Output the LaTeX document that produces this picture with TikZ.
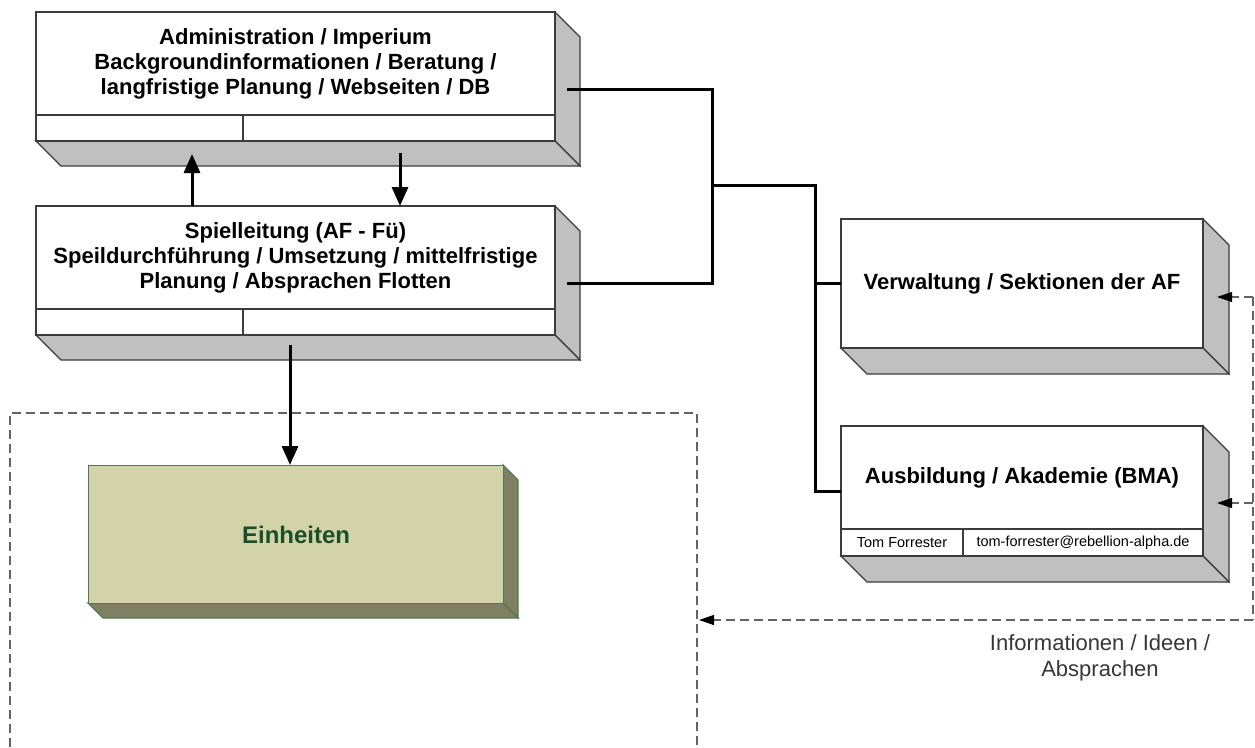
\documentclass[tikz,border=0pt]{standalone}
\usepackage{fontspec}
\setmainfont{Liberation Sans}
\usetikzlibrary{arrows.meta}
\definecolor{sidegray}{RGB}{192,192,192}
\definecolor{edgegray}{RGB}{60,60,60}
\definecolor{olivefront}{RGB}{211,211,170}
\definecolor{oliveside}{RGB}{127,127,100}
\definecolor{olivedge}{RGB}{84,120,84}
\definecolor{einheitgreen}{RGB}{30,78,40}
\definecolor{dashgray}{RGB}{100,100,100}
\definecolor{labelgray}{RGB}{55,55,55}
\newcommand{\extrude}[6]{%
  \draw[#6] (#1+#3,#2) -- ++(#5,#5) -- ++(0,#4) -- ++(-#5,-#5) -- cycle;
  \draw[#6] (#1,#2+#4) -- ++(#3,0) -- ++(#5,#5) -- ++(-#3,0) -- cycle;}
\begin{document}
\begin{tikzpicture}[x=1pt,y=-1pt,
  side/.style={draw=edgegray, line width=1.2pt, fill=sidegray},
  oside/.style={draw=olivedge, line width=1.2pt, fill=oliveside},
  cell/.style={draw=edgegray, line width=1.2pt, fill=white, rectangle, inner sep=0pt, outer sep=0pt, anchor=north west},
  boxtext/.style={font=\fontsize{22}{25}\selectfont\bfseries, align=center, text=black},
  smalltext/.style={font=\fontsize{14.5}{16}\selectfont, text=black},
  conn/.style={line width=3pt, draw=black},
  solidarrow/.style={line width=3pt, draw=black, -{Triangle[length=19pt,width=16pt]}},
  dasharrow/.style={line width=1.3pt, draw=dashgray, dash pattern=on 9pt off 5pt, -{Triangle[length=15pt,width=10pt,fill=black,color=black]}},
  dashline/.style={line width=1.3pt, draw=dashgray, dash pattern=on 9pt off 5pt},
  infotext/.style={font=\fontsize{22}{26}\selectfont, align=center, text=labelgray}]
\useasboundingbox (0,0) rectangle (1255,747);
\fill[white] (0,0) rectangle (1255,747);

% dashed frame round the units
\draw[dashline] (10,747) -- (10,413) -- (697,413) -- (697,747);

% Box 1: Administration
\extrude{36}{12}{519}{129}{25}{side}
\node[cell, boxtext, minimum width=519pt, minimum height=103pt] (admin) at (36,12)
  {Administration / Imperium\\Backgroundinformationen / Beratung /\\langfristige Planung / Webseiten / DB};
\node[cell, minimum width=207pt, minimum height=26pt] (adminA) at (36,115) {};
\node[cell, minimum width=312pt, minimum height=26pt] (adminB) at (243,115) {};

% Box 2: Spielleitung
\extrude{36}{206}{519}{129}{25}{side}
\node[cell, boxtext, minimum width=519pt, minimum height=103pt] (spiel) at (36,206)
  {Spielleitung (AF - Fü)\\Speildurchführung / Umsetzung / mittelfristige\\Planung / Absprachen Flotten};
\node[cell, minimum width=207pt, minimum height=26pt] (spielA) at (36,309) {};
\node[cell, minimum width=312pt, minimum height=26pt] (spielB) at (243,309) {};

% Box 3: Verwaltung
\extrude{841}{219}{362}{129}{26}{side}
\node[cell, boxtext, minimum width=362pt, minimum height=129pt] (verw) at (841,219)
  {Verwaltung / Sektionen der AF};

% Box 4: Ausbildung
\extrude{841}{426}{362}{130}{26}{side}
\node[cell, boxtext, minimum width=362pt, minimum height=103pt] (ausb) at (841,426)
  {Ausbildung / Akademie (BMA)};
\node[cell, smalltext, minimum width=122pt, minimum height=27pt] (ausbA) at (841,529) {Tom Forrester};
\node[cell, smalltext, minimum width=240pt, minimum height=27pt] (ausbB) at (963,529) {tom-forrester@rebellion-alpha.de};

% Einheiten
\extrude{88}{465}{415}{138}{15}{oside}
\node[rectangle, draw=olivedge, line width=1.2pt, fill=olivefront, inner sep=0pt, anchor=north west,
  minimum width=415pt, minimum height=138pt, font=\fontsize{24}{28}\selectfont\bfseries, text=einheitgreen] (einh) at (88,465) {Einheiten};

% coordinates for connectors
\coordinate (adminport) at (567,89);
\coordinate (spielport) at (567,283);
\coordinate (joinA) at (712,89);
\coordinate (joinB) at (712,283);
\coordinate (joinC) at (712,185);
\coordinate (joinD) at (815,185);
\coordinate (joinE) at (815,283);
\coordinate (joinF) at (815,491);
\coordinate (upstart) at (192,206);
\coordinate (uptip) at (192,154);
\coordinate (downstart) at (400,153);
\coordinate (downtip) at (400,206);
\coordinate (einhstart) at (290,345);
\coordinate (verwport) at (1217,297);
\coordinate (ausbport) at (1217,503);
\coordinate (srcA) at (1253,297);
\coordinate (srcB) at (1253,503);
\coordinate (srcC) at (1253,620);
\coordinate (frameport) at (699,620);

% solid connectors
\draw[conn] (adminport) -- (joinA) -- (joinB) -- (spielport);
\draw[conn] (joinC) -- (joinD) -- (joinF) -- (ausb.west |- joinF);
\draw[conn] (joinE) -- (verw.west |- joinE);
\draw[solidarrow] (upstart) -- (uptip);
\draw[solidarrow] (downstart) -- (downtip);
\draw[solidarrow] (einhstart) -- (einh.north -| einhstart);

% dashed feedback
\draw[dashline] (srcA) -- (srcC);
\draw[dasharrow] (srcA) -- (verwport);
\draw[dasharrow] (srcB) -- (ausbport);
\draw[dasharrow] (srcC) -- (frameport);

\node[infotext] (info) at (1100,658) {Informationen / Ideen /\\Absprachen};
\end{tikzpicture}
\end{document}
